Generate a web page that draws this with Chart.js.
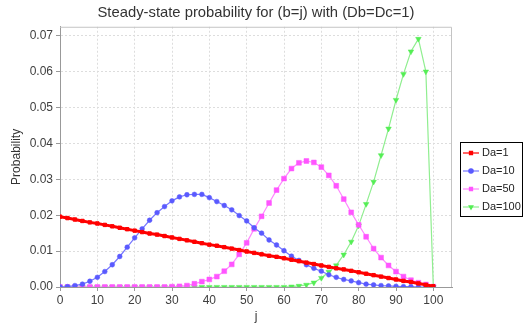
<!DOCTYPE html>
<html>
<head>
<meta charset="utf-8">
<script src="https://cdn.jsdelivr.net/npm/chart.js@4"></script>
<style>
  html, body { margin: 0; padding: 0; background: #fff; }
</style>
</head>
<body>
<canvas id="chart" width="523" height="332"></canvas>
<script>
// =====================================
// DATA
// =====================================
const jValues = [0, 2, 4, 6, 8, 10, 12, 14, 16, 18, 20, 22, 24, 26, 28, 30, 32, 34, 36, 38, 40,
    42, 44, 46, 48, 50, 52, 54, 56, 58, 60, 62, 64, 66, 68, 70, 72, 74, 76, 78, 80,
    82, 84, 86, 88, 90, 92, 94, 96, 98, 100];

const da1 = [0.0196, 0.0192, 0.0188, 0.0184, 0.0180, 0.0177, 0.0173, 0.0169, 0.0165, 0.0161, 0.0157,
    0.0153, 0.0149, 0.0146, 0.0142, 0.0138, 0.0134, 0.0130, 0.0126, 0.0122, 0.0118,
    0.0115, 0.0111, 0.0107, 0.0103, 0.0099, 0.0095, 0.0091, 0.0087, 0.0084, 0.0080,
    0.0076, 0.0072, 0.0068, 0.0064, 0.0060, 0.0056, 0.0052, 0.0049, 0.0045, 0.0041,
    0.0037, 0.0033, 0.0029, 0.0025, 0.0021, 0.0017, 0.0014, 0.0010, 0.0006, 0.0002];

const da10 = [0.0000, 0.0001, 0.0004, 0.0008, 0.0016, 0.0027, 0.0043, 0.0062, 0.0085, 0.0111, 0.0137,
    0.0162, 0.0186, 0.0207, 0.0224, 0.0240, 0.0251, 0.0257, 0.0258, 0.0258, 0.0249,
    0.0238, 0.0227, 0.0215, 0.0199, 0.0184, 0.0165, 0.0150, 0.0131, 0.0117, 0.0101,
    0.0086, 0.0074, 0.0062, 0.0052, 0.0044, 0.0034, 0.0027, 0.0021, 0.0017, 0.0012,
    0.0008, 0.0006, 0.0004, 0.0003, 0.0002, 0.0001, 0.0001, 0.0000, 0.0000, 0.0000];

const da50 = [0, 0, 0, 0, 0, 0, 0, 0, 0, 0, 0,
    0, 0, 0, 0, 0.0001, 0.0002, 0.0004, 0.0009, 0.0015, 0.0021,
    0.0029, 0.0044, 0.0063, 0.0091, 0.0123, 0.0162, 0.0197, 0.0234, 0.0270, 0.0302,
    0.0330, 0.0346, 0.0351, 0.0347, 0.0334, 0.0311, 0.0282, 0.0245, 0.0208, 0.0173,
    0.0140, 0.0107, 0.0082, 0.0060, 0.0043, 0.0029, 0.0019, 0.0012, 0.0007, 0.0001];

const da100 = [0, 0, 0, 0, 0, 0, 0, 0, 0, 0, 0,
    0, 0, 0, 0, 0, 0, 0, 0, 0, 0,
    0, 0, 0, 0, 0, 0, 0, 0, 0, 0,
    0.0001, 0.0003, 0.0006, 0.0012, 0.0025, 0.0042, 0.0060, 0.0090, 0.0126, 0.0171,
    0.0231, 0.0293, 0.0367, 0.0441, 0.0521, 0.0593, 0.0656, 0.0691, 0.0600, 0.0000];

const seriesLabels = ["Da=1", "Da=10", "Da=50", "Da=100"];
const xTicks = [0, 10, 20, 30, 40, 50, 60, 70, 80, 90, 100];
const yTicks = [0, 0.01, 0.02, 0.03, 0.04, 0.05, 0.06, 0.07];

function toPoints(values) {
    return values.map((v, i) => ({ x: jValues[i], y: v }));
}

const FONT = "'Liberation Sans', Arial, sans-serif";

// =====================================
// PLUGINS: fondo, borde del área y leyenda en caja
// =====================================
const frame = {
    id: "frame",
    beforeDraw(chart) {
        const ctx = chart.ctx;
        ctx.save();
        ctx.fillStyle = "#ffffff";
        ctx.fillRect(0, 0, chart.width, chart.height);
        ctx.restore();
    },
    afterDatasetsDraw(chart) {
        const a = chart.chartArea;
        const ctx = chart.ctx;
        ctx.save();
        ctx.strokeStyle = "#c4c4c4";
        ctx.lineWidth = 1;
        ctx.beginPath();
        ctx.moveTo(a.left, a.top + 0.5);
        ctx.lineTo(a.right - 0.5, a.top + 0.5);
        ctx.lineTo(a.right - 0.5, a.bottom);
        ctx.stroke();
        ctx.restore();
    }
};

const boxLegend = {
    id: "boxLegend",
    afterDraw(chart) {
        const ctx = chart.ctx;
        ctx.save();
        ctx.fillStyle = "#ffffff";
        ctx.fillRect(460.5, 142.5, 62, 74);
        ctx.strokeStyle = "#000000";
        ctx.lineWidth = 1;
        ctx.strokeRect(460.5, 142.5, 62, 74);

        chart.data.datasets.forEach((ds, i) => {
            const y = 153 + i * 18;
            ctx.strokeStyle = ds.borderColor;
            ctx.lineWidth = 1.2;
            ctx.beginPath();
            ctx.moveTo(463, y);
            ctx.lineTo(479, y);
            ctx.stroke();

            ctx.fillStyle = ds.pointBackgroundColor;
            ctx.strokeStyle = ds.pointBorderColor;
            Chart.helpers.drawPoint(ctx, {
                pointStyle: ds.pointStyle,
                rotation: ds.pointRotation || 0,
                radius: 2.2,
                borderWidth: 1
            }, 471, y);

            ctx.fillStyle = "#222222";
            ctx.font = "11px " + FONT;
            ctx.textBaseline = "middle";
            ctx.textAlign = "left";
            ctx.fillText(ds.label, 482, y);
        });
        ctx.restore();
    }
};

// =====================================
// GRÁFICO
// =====================================
new Chart(document.getElementById("chart"), {
    type: "line",
    data: {
        datasets: [
            {
                label: seriesLabels[0],
                data: toPoints(da1),
                borderColor: "#ff0000",
                backgroundColor: "#ff0000",
                pointBackgroundColor: "#ff0000",
                pointBorderColor: "#ff0000",
                borderWidth: 3,
                pointStyle: "rect",
                pointRadius: 2.4,
                pointBorderWidth: 1
            },
            {
                label: seriesLabels[1],
                data: toPoints(da10),
                borderColor: "#7777ff",
                backgroundColor: "#5555ff",
                pointBackgroundColor: "#5a5aff",
                pointBorderColor: "#5a5aff",
                borderWidth: 1.2,
                pointStyle: "circle",
                pointRadius: 2.4,
                pointBorderWidth: 0.5
            },
            {
                label: seriesLabels[2],
                data: toPoints(da50),
                borderColor: "#ff88ff",
                backgroundColor: "#ff55ff",
                pointBackgroundColor: "#ff55ff",
                pointBorderColor: "#ff55ff",
                borderWidth: 1.2,
                pointStyle: "rect",
                pointRadius: 3.4,
                pointBorderWidth: 0.5
            },
            {
                label: seriesLabels[3],
                data: toPoints(da100),
                borderColor: "#90ee90",
                backgroundColor: "#55ee55",
                pointBackgroundColor: "#55ee55",
                pointBorderColor: "#55ee55",
                borderWidth: 1.2,
                pointStyle: "triangle",
                pointRotation: 180,
                pointRadius: 3.2,
                pointBorderWidth: 0.5
            }
        ]
    },
    options: {
        responsive: false,
        animation: false,
        layout: { padding: { left: 0, right: 71, top: 0, bottom: 0 } },
        plugins: {
            legend: { display: false },
            tooltip: { enabled: false },
            title: {
                display: true,
                text: "Steady-state probability for (b=j) with (Db=Dc=1)",
                fullSize: false,
                color: "#333333",
                font: { family: FONT, size: 14.8, weight: "normal" },
                padding: { top: 4, bottom: 5 }
            }
        },
        scales: {
            x: {
                type: "linear",
                min: 0,
                max: 105,
                afterBuildTicks: s => { s.ticks = xTicks.map(v => ({ value: v })); },
                afterFit: s => { s.height = 45; },
                ticks: {
                    color: "#404040",
                    font: { family: FONT, size: 12 },
                    padding: 2,
                    maxRotation: 0
                },
                grid: {
                    color: "#dddddd",
                    lineWidth: 1,
                    tickLength: 4,
                    tickColor: "#999999",
                    tickBorderDash: []
                },
                border: { display: true, color: "#999999", dash: [2, 2] },
                title: {
                    display: true,
                    text: "j",
                    color: "#333333",
                    font: { family: FONT, size: 12 },
                    padding: { top: 0, bottom: 8 }
                }
            },
            y: {
                type: "linear",
                min: 0,
                max: 0.0725,
                afterBuildTicks: s => { s.ticks = yTicks.map(v => ({ value: v })); },
                afterFit: s => { s.width = 60; },
                ticks: {
                    color: "#404040",
                    font: { family: FONT, size: 12 },
                    padding: 3,
                    callback: v => v.toFixed(2)
                },
                grid: {
                    color: "#dddddd",
                    lineWidth: 1,
                    tickLength: 4,
                    tickColor: "#999999",
                    tickBorderDash: []
                },
                border: { display: true, color: "#999999", dash: [2, 2] },
                title: {
                    display: true,
                    text: "Probability",
                    color: "#333333",
                    font: { family: FONT, size: 12 },
                    padding: { top: 9, bottom: 0 }
                }
            }
        }
    },
    plugins: [frame, boxLegend]
});
</script>
</body>
</html>
